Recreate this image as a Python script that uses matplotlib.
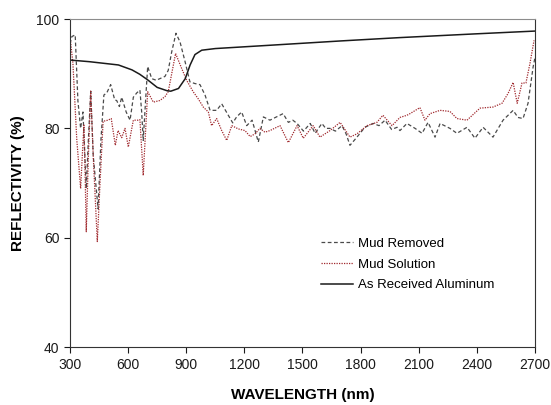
import matplotlib
matplotlib.use("Agg")
import matplotlib.pyplot as plt

plt.rcParams['font.family'] = ['Liberation Sans', 'DejaVu Sans']

# As Received Aluminum
wl_al = [300, 400, 550, 620, 660, 700, 750, 800, 820, 860, 895, 920, 945, 980,
         1050, 1330, 1700, 2000, 2400, 2700]
al = [92.5, 92.2, 91.6, 90.7, 89.9, 88.9, 87.5, 86.9, 86.8, 87.3, 89.1, 91.6, 93.5,
      94.3, 94.6, 95.2, 96.0, 96.6, 97.3, 97.8]

# Mud Removed
wl_mr = [300, 310, 327, 341, 355, 367, 384, 395, 407, 420, 445, 460, 475, 490, 510,
         531, 541, 555, 567, 590, 610, 627, 645, 661, 670, 678, 690, 701, 722, 745,
         764, 790, 807, 825, 847, 868, 894, 919, 945, 971, 997, 1023, 1057, 1083,
         1117, 1140, 1160, 1186, 1212, 1240, 1272, 1298, 1332, 1360, 1400, 1427,
         1450, 1472, 1505, 1540, 1565, 1600, 1620, 1642, 1670, 1704, 1725, 1745,
         1781, 1822, 1864, 1895, 1926, 1960, 1988, 2003, 2039, 2081, 2117, 2148,
         2184, 2210, 2261, 2297, 2349, 2390, 2432, 2483, 2535, 2587, 2612, 2638,
         2664, 2690, 2700]
mr = [95.5, 96.8, 97.1, 85.0, 80.0, 83.0, 69.0, 78.0, 86.8, 75.0, 65.3, 78.0, 86.1,
      86.5, 88.0, 85.2, 85.1, 84.0, 85.7, 83.0, 81.5, 85.7, 86.5, 87.0, 83.0, 77.8,
      85.0, 91.3, 89.1, 88.8, 89.1, 89.5, 90.6, 94.0, 97.4, 95.8, 92.2, 88.5, 88.2,
      88.0, 86.1, 83.3, 83.3, 84.5, 82.4, 81.0, 82.1, 83.0, 80.5, 81.5, 77.5, 82.1,
      81.5, 82.0, 82.7, 81.1, 81.5, 80.9, 79.5, 80.9, 79.1, 80.9, 80.0, 80.0, 79.5,
      80.5, 79.0, 76.9, 78.4, 80.2, 80.9, 80.5, 81.5, 79.8, 80.2, 79.6, 80.9, 80.0,
      79.1, 81.1, 78.4, 80.9, 80.0, 79.1, 80.2, 78.2, 80.2, 78.4, 81.5, 83.3, 82.0,
      81.8, 84.6, 91.2, 93.0]

# Mud Solution
wl_ms = [300, 315, 335, 355, 365, 372, 378, 384, 395, 407, 420, 441, 455, 471, 496,
         513, 534, 548, 567, 584, 601, 627, 652, 661, 678, 701, 730, 764, 790, 807,
         825, 845, 876, 902, 936, 962, 988, 1014, 1031, 1057, 1083, 1109, 1135, 1169,
         1203, 1230, 1255, 1280, 1306, 1332, 1384, 1427, 1472, 1504, 1555, 1590,
         1642, 1694, 1745, 1781, 1833, 1884, 1915, 1962, 2003, 2039, 2055, 2106,
         2132, 2158, 2210, 2261, 2297, 2349, 2416, 2483, 2530, 2561, 2587, 2608,
         2633, 2653, 2674, 2695]
ms = [96.8, 92.0, 78.0, 69.0, 76.0, 80.6, 72.0, 61.1, 75.0, 86.8, 75.0, 59.3, 70.0,
      81.3, 81.5, 81.8, 76.9, 79.6, 78.3, 80.0, 76.6, 81.5, 81.5, 81.6, 71.4, 86.7,
      84.8, 85.1, 85.8, 86.7, 90.0, 93.7, 91.0, 88.8, 86.7, 85.4, 83.9, 83.0, 80.5,
      81.8, 79.6, 77.8, 80.5, 79.9, 79.6, 78.5, 79.0, 80.0, 79.3, 79.6, 80.5, 77.4,
      80.5, 78.2, 80.5, 78.4, 79.6, 81.1, 78.4, 79.0, 80.5, 81.1, 82.4, 80.5, 82.0,
      82.4, 82.7, 83.8, 81.5, 82.7, 83.3, 83.1, 81.8, 81.5, 83.7, 83.9, 84.6, 86.4,
      88.4, 84.6, 88.3, 88.3, 91.9, 96.1]

fig = plt.figure(figsize=(5.51, 4.05), dpi=100)
ax = fig.add_axes([0.127, 0.143, 0.844, 0.81])

ax.plot(wl_mr, mr, color='#4a4a4a', lw=0.9, ls=(0, (3, 2)), label='Mud Removed')
ax.plot(wl_ms, ms, color='#a0282d', lw=0.9, ls=(0, (1, 1)), label='Mud Solution')
ax.plot(wl_al, al, color='#1a1a1a', lw=1.1, label='As Received Aluminum')

ax.set_xlim(300, 2700)
ax.set_ylim(40, 100)
ax.set_xticks(range(300, 2701, 300))
ax.set_yticks([40, 60, 80, 100])
ax.tick_params(labelsize=10, length=4, width=0.8, colors='#1a1a1a')
ax.set_xlabel('WAVELENGTH (nm)', fontsize=11, fontweight='bold', labelpad=12)
ax.set_ylabel('REFLECTIVITY (%)', fontsize=11, fontweight='bold', labelpad=8)

for s in ['left', 'bottom', 'right']:
    ax.spines[s].set_color('#333333')
ax.spines['top'].set_color('#8c8c8c')

ax.legend(loc='upper left', bbox_to_anchor=(0.515, 0.37), frameon=False,
          fontsize=9.5, handlelength=2.4, handletextpad=0.4, labelspacing=0.65)

fig.savefig('out.png', dpi=100)
